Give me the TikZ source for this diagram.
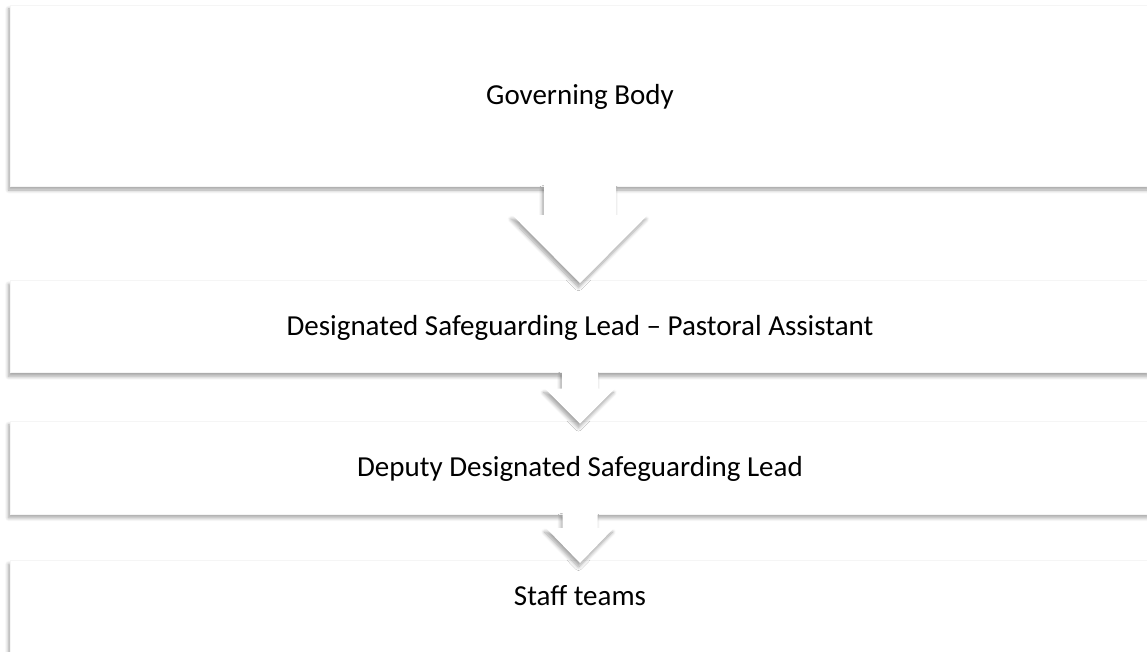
\documentclass[tikz,border=0pt]{standalone}
\usepackage{fontspec}
\setmainfont{Carlito}
\usetikzlibrary{positioning,calc,shadows.blur}

\tikzset{
  softshadow/.style={blur shadow={shadow xshift=-1.5pt,shadow yshift=-4pt,
      shadow blur radius=3.5pt,shadow blur steps=8,shadow opacity=36}},
  flowbox/.style={fill=white,draw=black!4,minimum width=1140pt,text height=22pt,text depth=3pt,
      font=\fontsize{29}{34}\selectfont,softshadow},
  flowarrow/.style={fill=white,draw=none,softshadow}
}

% down arrow between two boxes: from, to, shaft half width, head half width, shaft length
\newcommand{\chevron}[5]{%
  \draw[flowarrow] let \p1=(#1.south), \p2=(#2.north) in
    (\x1-#3pt,\y1+1pt) -- (\x1-#3pt,\y1-#5pt) -- (\x1-#4pt,\y1-#5pt) -- (\x1,\y2-3pt)
    -- (\x1+#4pt,\y1-#5pt) -- (\x1+#3pt,\y1-#5pt) -- (\x1+#3pt,\y1+1pt) -- cycle;}

\begin{document}
\begin{tikzpicture}[x=1pt,y=-1pt]
  \useasboundingbox (0,0) rectangle (1147,652);
  \clip (0,0) rectangle (1147,652);

  \node[flowbox,minimum height=181pt] (gov) at (580,95.5) {Governing Body};
  \node[flowbox,minimum height=92pt,below=94pt of gov] (dsl)
    {Designated Safeguarding Lead – Pastoral Assistant};
  \node[flowbox,minimum height=93pt,below=48pt of dsl] (ddsl)
    {Deputy Designated Safeguarding Lead};
  \node[flowbox,minimum height=100pt,text height=20pt,text depth=30pt,below=46pt of ddsl] (staff)
    {Staff teams};

  \chevron{gov}{dsl}{36}{67.5}{29}
  \chevron{dsl}{ddsl}{18}{35}{16}
  \chevron{ddsl}{staff}{17.5}{34}{14}
\end{tikzpicture}
\end{document}
